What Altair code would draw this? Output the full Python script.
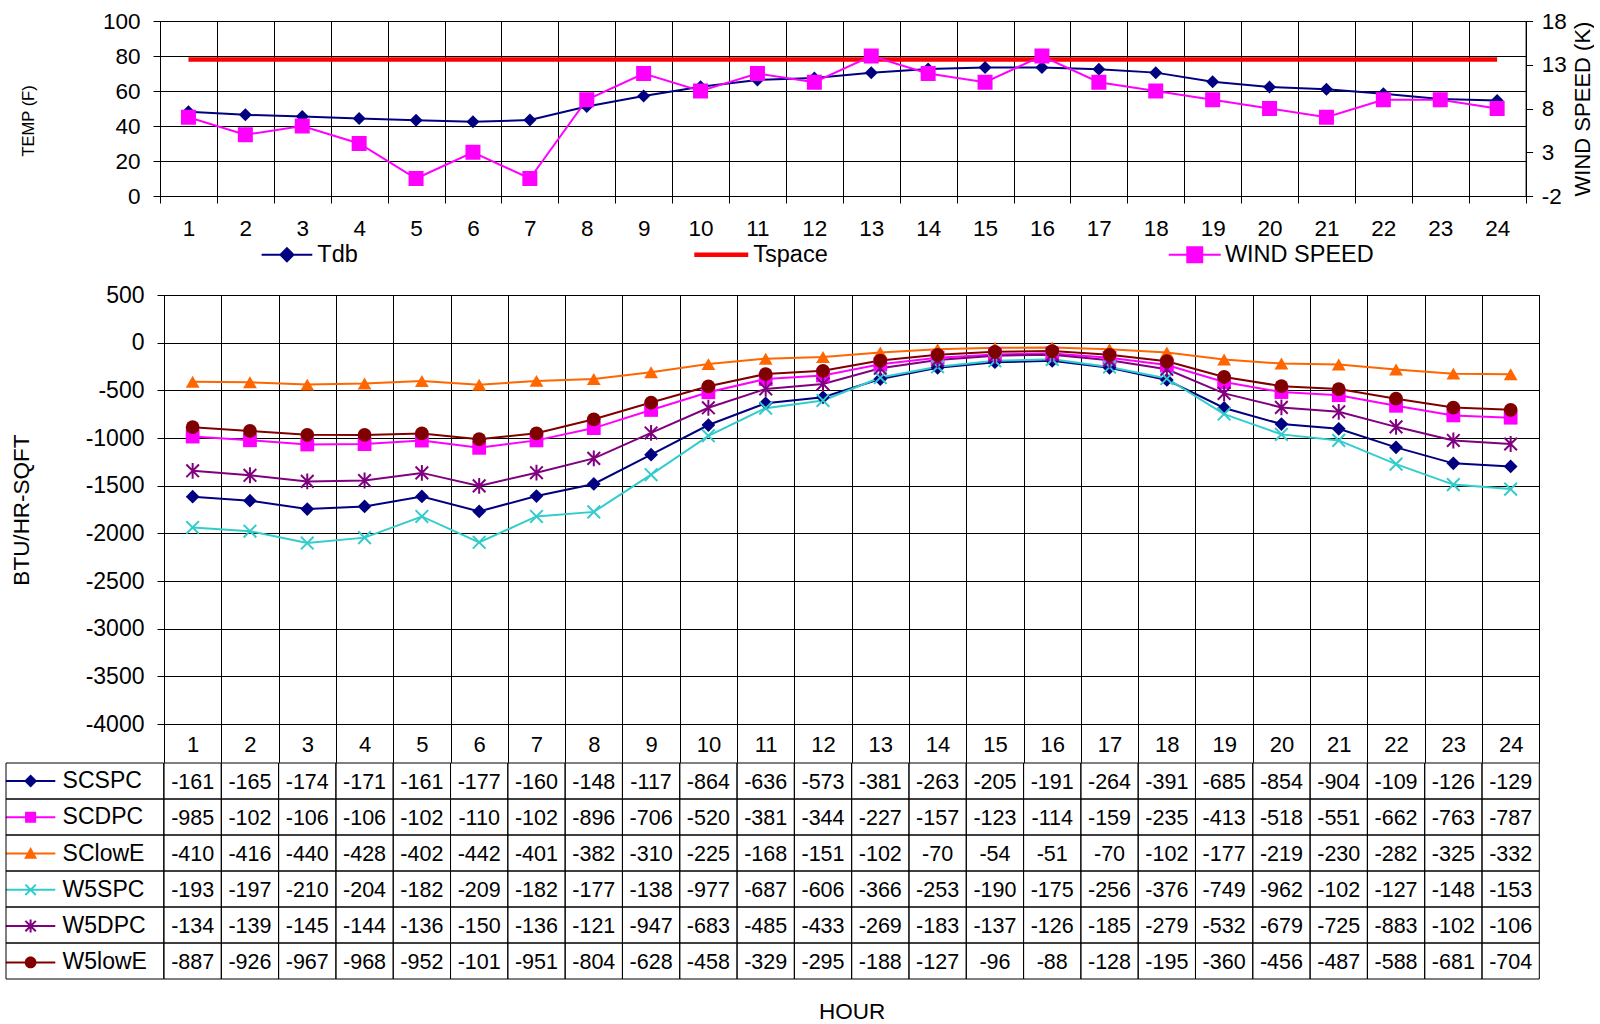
import altair as alt
import pandas as pd

FONT = "Liberation Sans"
BLACK = "#000000"

# ---------------------------------------------------------------- data
HOURS = list(range(1, 25))

# outdoor dry-bulb (F), space set-point (F), wind speed (knots)
TDB = [48.2, 46.4, 45.4, 44.3, 43.3, 42.4, 43.4, 51.1, 57.2, 62.4, 66.3, 67.4,
       70.4, 72.6, 73.4, 73.4, 72.4, 70.5, 65.3, 62.3, 61.0, 58.4, 55.4, 54.6]
TSPACE = [78, 78, 78, 78, 78, 78, 78, 78, 78, 78, 78, 78,
          78, 78, 78, 78, 78, 78, 78, 78, 78, 78, 78, 78]
WIND = [7, 5, 6, 4, 0, 3, 0, 9, 12, 10, 12, 11, 14, 12, 11, 14, 11, 10, 9, 8, 7, 9, 9, 8]

# hourly loads, BTU/HR-SQFT
SERIES = ["SCSPC", "SCDPC", "SClowE", "W5SPC", "W5DPC", "W5lowE"]
SCSPC = [-1616, -1658, -1745, -1718, -1613, -1770, -1609, -1482, -1175, -864, -636, -573,
         -381, -263, -205, -191, -264, -391, -685, -854, -904, -1098, -1266, -1298]
SCDPC = [-985, -1024, -1068, -1064, -1027, -1103, -1025, -896, -706, -520, -381, -344,
         -227, -157, -123, -114, -159, -235, -413, -518, -551, -662, -763, -787]
SCLOWE = [-410, -416, -440, -428, -402, -442, -401, -382, -310, -225, -168, -151,
          -102, -70, -54, -51, -70, -102, -177, -219, -230, -282, -325, -332]
W5SPC = [-1938, -1978, -2102, -2045, -1823, -2094, -1823, -1775, -1385, -977, -687, -606,
         -366, -253, -190, -175, -256, -376, -749, -962, -1025, -1274, -1489, -1536]
W5DPC = [-1344, -1391, -1455, -1446, -1366, -1502, -1364, -1214, -947, -683, -485, -433,
         -269, -183, -137, -126, -185, -279, -532, -679, -725, -883, -1026, -1063]
W5LOWE = [-887, -926, -967, -968, -952, -1012, -951, -804, -628, -458, -329, -295,
          -188, -127, -96, -88, -128, -195, -360, -456, -487, -588, -681, -704]
LOADS = [SCSPC, SCDPC, SCLOWE, W5SPC, W5DPC, W5LOWE]

# ---------------------------------------------------------------- styles
NAVY, MAGENTA, ORANGE, TURQ, PURPLE, MAROON, RED = (
    "#000080", "#FF00FF", "#FF6600", "#33CCCC", "#800080", "#800000", "#FF0000")
COLORS = [NAVY, MAGENTA, ORANGE, TURQ, PURPLE, MAROON]

X_PATH = "M-1,-1L1,1M-1,1L1,-1"
STAR_PATH = "M-1,-1L1,1M-1,1L1,-1M0,-1.25L0,1.25"
MARKERS = ["diamond", "square", "triangle-up", X_PATH, STAR_PATH, "circle"]
FILLED = [True, True, True, False, False, True]

# table keys: a short bar with the series marker on it, all drawn as filled outlines
BAR = "M-3.8,-0.154H3.8V0.154H-3.8Z"
ARM_A = "M-0.691,-0.909L0.909,0.691L0.691,0.909L-0.909,-0.691Z"
ARM_B = "M-0.909,0.691L0.691,-0.909L0.909,-0.691L-0.691,0.909Z"
STEM = "M-0.154,-1H0.154V1H-0.154Z"
KEYS = [
    BAR + "M0,-1L1,0L0,1L-1,0Z",
    BAR + "M-0.85,-0.85H0.85V0.85H-0.85Z",
    BAR + "M0,-1L1,0.8H-1Z",
    BAR + ARM_A + ARM_B,
    BAR + ARM_A + ARM_B + STEM,
    BAR + "M0.9,0A0.9,0.9 0 1,1 -0.9,0A0.9,0.9 0 1,1 0.9,0Z",
]

TOP_W, TOP_H = 1361.6, 175
BOT_W, BOT_H = 1375.3, 429
HEAD_H = 38.3
TAB_H = 216
KEY_W = 157.7


def band(**kw):
    return alt.Scale(paddingInner=0, paddingOuter=0, **kw)


def key_legend(x, y, shape, color, offset, width=2.0):
    return alt.Legend(
        title=None, orient="none", legendX=x, legendY=y, padding=0,
        symbolType=shape, symbolSize=169, symbolStrokeColor=color,
        symbolStrokeWidth=width, symbolOpacity=1,
        labelFontSize=23.5, labelOffset=offset, labelColor=BLACK, labelFont=FONT,
    )


# ---------------------------------------------------------------- weather panel
weather = pd.DataFrame({"hour": HOURS, "tdb": TDB, "tspace": TSPACE, "wind": WIND})

x_top = alt.X(
    "hour:O", scale=band(range=[-4, TOP_W]),
    axis=alt.Axis(title=None, labelAngle=0, tickBand="extent", grid=True,
                  tickSize=7, labelPadding=14, labelFontSize=22.5),
)
temp_scale = alt.Scale(domain=[0, 100])
temp_axis = alt.Axis(title="TEMP (F)", values=[0, 20, 40, 60, 80, 100], grid=True, offset=4,
                     tickSize=7, labelPadding=13, labelFontSize=22.5,
                     titleFontSize=16.5, titleX=-132, titleY=99.4, titleAngle=270,
                     titleAlign="center", titleBaseline="middle")
wind_scale = alt.Scale(domain=[-2, 18])
wind_axis = alt.Axis(orient="right", title="WIND SPEED (K)", values=[-2, 3, 8, 13, 18],
                     labelExpr="datum.value + ''",
                     grid=False, tickSize=7, labelPadding=8.7, labelFontSize=22.5,
                     titleFontSize=22, titleX=57, titleY=TOP_H / 2, titleAngle=270,
                     titleAlign="center", titleBaseline="middle")

wbase = alt.Chart(weather)
tdb_line = wbase.mark_line(color=NAVY, strokeWidth=2).encode(
    x=x_top, y=alt.Y("tdb:Q", scale=temp_scale, axis=temp_axis))
tdb_pts = wbase.transform_calculate(key="'Tdb'").mark_point(
    shape="diamond", filled=True, size=169, opacity=1).encode(
    x=x_top, y=alt.Y("tdb:Q", scale=temp_scale, axis=temp_axis),
    color=alt.Color("key:N", scale=alt.Scale(domain=["Tdb"], range=[NAVY]),
                    legend=key_legend(111.2, 222, "M-3.9,0H3.9M0,-1L1,0L0,1L-1,0Z",
                                      NAVY, 18.6)))
tspace_line = wbase.transform_calculate(key="'Tspace'").mark_line(strokeWidth=4.5).encode(
    x=x_top, y=alt.Y("tspace:Q", scale=temp_scale, axis=temp_axis),
    color=alt.Color("key:N", scale=alt.Scale(domain=["Tspace"], range=[RED]),
                    legend=key_legend(545.5, 222, "M-4.15,0H4.15", RED, 20.3, 4.5)))
wind_line = wbase.mark_line(color=MAGENTA, strokeWidth=2).encode(
    x=x_top, y=alt.Y("wind:Q", scale=wind_scale, axis=wind_axis))
wind_pts = wbase.transform_calculate(key="'WIND SPEED'").mark_point(
    shape="square", filled=True, size=225, opacity=1).encode(
    x=x_top, y=alt.Y("wind:Q", scale=wind_scale, axis=wind_axis),
    color=alt.Color("key:N", scale=alt.Scale(domain=["WIND SPEED"], range=[MAGENTA]),
                    legend=key_legend(1019, 222, "M-4,0H4M-1.15,-1.15H1.15V1.15H-1.15Z",
                                      MAGENTA, 18.4)))

temp_layers = alt.layer(tdb_line, tspace_line, tdb_pts).resolve_scale(color="independent")
wind_layers = alt.layer(wind_line, wind_pts)
weather_panel = alt.layer(temp_layers, wind_layers).resolve_scale(
    y="independent", color="independent").properties(width=TOP_W, height=TOP_H)

# ---------------------------------------------------------------- load panel
loads = pd.concat(
    [pd.DataFrame({"hour": HOURS, "series": s, "value": v}) for s, v in zip(SERIES, LOADS)],
    ignore_index=True)

# hour numbers form the header row of the data table below the plot
x_mid = alt.X("hour:O", scale=band(),
              axis=alt.Axis(title=None, labelAngle=0, tickBand="extent", grid=True,
                            tickSize=HEAD_H, labelPadding=-27.8, labelFontSize=22))
load_scale = alt.Scale(domain=[-4000, 500])
load_axis = alt.Axis(title="BTU/HR-SQFT", values=list(range(-4000, 501, 500)), grid=True,
                     labelExpr="datum.value + ''",
                     tickSize=7, labelPadding=13, labelFontSize=23, titleFontSize=22.5,
                     minExtent=74, maxExtent=74, titlePadding=57)
y_load = alt.Y("value:Q", scale=load_scale, axis=load_axis)

lbase = alt.Chart(loads)
load_layers = []
for name, col, shape, filled in zip(SERIES, COLORS, MARKERS, FILLED):
    one = lbase.transform_filter(alt.datum.series == name)
    load_layers.append(one.mark_line(strokeWidth=2, color=col).encode(x=x_mid, y=y_load))
for name, col, shape, filled in zip(SERIES, COLORS, MARKERS, FILLED):
    one = lbase.transform_filter(alt.datum.series == name)
    load_layers.append(one.mark_point(
        shape=shape, filled=filled, size=190 if filled else 160, opacity=1,
        strokeWidth=2, color=col).encode(x=x_mid, y=y_load))

# series keys shown in the first column of the data table
series_key = alt.Legend(
    title=None, orient="none", legendX=-144.9, legendY=474.4, direction="vertical",
    padding=0, rowPadding=12.3, symbolSize=169, symbolStrokeWidth=0, symbolOpacity=1,
    labelFontSize=23, labelOffset=20.5, labelColor=BLACK, labelFont=FONT)
key_layer = lbase.transform_filter("false").mark_point(filled=True).encode(
    x=x_mid, y=y_load,
    color=alt.Color("series:N", scale=alt.Scale(domain=SERIES, range=COLORS),
                    legend=series_key),
    shape=alt.Shape("series:N", scale=alt.Scale(domain=SERIES, range=KEYS),
                    legend=series_key))
load_layers.append(key_layer)

load_panel = alt.layer(*load_layers).properties(width=BOT_W, height=BOT_H)

# ---------------------------------------------------------------- data table
cells = []
for name, vals in zip(SERIES, LOADS):
    for h, v in zip(HOURS, vals):
        # a cell holds at most four characters
        cells.append({"hour": h, "row": name, "text": str(int(v))[:4]})
table = pd.DataFrame(cells)

row_scale = alt.Scale(domain=SERIES, paddingInner=0, paddingOuter=0)
x_tab = alt.X("hour:O", scale=band(),
              axis=alt.Axis(title="HOUR", labels=False, ticks=False, domain=False, grid=False,
                            titleFontSize=22.5, titlePadding=21.5, minExtent=0, maxExtent=0))
tbase = alt.Chart(table)
table_cells = tbase.mark_rect(fill="transparent", stroke=BLACK, strokeWidth=1).encode(
    x=x_tab, y=alt.Y("row:N", scale=row_scale, axis=None))
table_text = tbase.mark_text(fontSize=21.5, font=FONT, color=BLACK, dy=1.5).encode(
    x=x_tab, y=alt.Y("row:N", scale=row_scale, axis=None), text="text:N")
table_panel = alt.layer(table_cells, table_text).properties(width=BOT_W, height=TAB_H)

key_cells = alt.Chart(pd.DataFrame({"row": SERIES})).mark_rect(
    fill="transparent", stroke=BLACK, strokeWidth=1).encode(
    y=alt.Y("row:N", scale=row_scale, axis=None)).properties(width=KEY_W, height=TAB_H)


def spacer(w, h):
    return alt.Chart(pd.DataFrame({"s": [0]})).mark_point(opacity=0).properties(
        width=w, height=h)


chart = alt.ConcatChart(
    concat=[spacer(KEY_W, TOP_H), weather_panel,
            spacer(1, 98.9), spacer(1, 98.9),
            spacer(KEY_W, BOT_H), load_panel,
            spacer(1, HEAD_H), spacer(1, HEAD_H),
            key_cells, table_panel],
    columns=2, spacing=0, bounds="flush", align="each",
    padding={"left": 3, "top": 10, "right": 0, "bottom": 0},
).resolve_scale(
    color="independent", shape="independent"
).resolve_legend(
    color="independent", shape="independent"
).configure(font=FONT).configure_view(stroke=None).configure_axis(
    labelColor=BLACK, titleColor=BLACK, domainColor=BLACK, tickColor=BLACK,
    gridColor=BLACK, gridOpacity=1, gridWidth=1, domainWidth=1, tickWidth=1,
    titleFontWeight="normal", labelFont=FONT, titleFont=FONT,
)

chart.save("out.html", embed_options={"renderer": "svg", "actions": False})
